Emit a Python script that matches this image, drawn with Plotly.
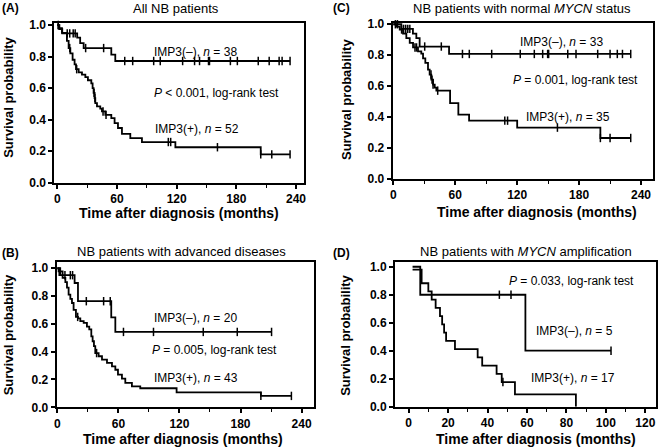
import plotly.graph_objects as go

# ---------------- DATA ----------------
# Panel A: All NB patients
a_neg_t = [0, 2, 5, 20, 23, 26.5, 54.3, 58.3, 234]
a_neg_s = [1.0, 0.974, 0.947, 0.92, 0.886, 0.854, 0.813, 0.772, 0.772]
a_neg_c = [1, 10, 12.5, 16, 18, 28.5, 46.6, 67.8, 75.8, 96.9, 103.5, 126, 138, 143, 152, 153, 174, 181, 202, 213, 223, 226, 234]
a_pos_t = [0, 2, 4.7, 9.7, 11.4, 13.1, 15.4, 17.4, 18.8, 21.5, 24.8, 28.2, 30.8, 34.2, 35.5, 36.5, 37.5, 38.2, 39.9,
           43.2, 44.9, 48.3, 54.3, 57.6, 61, 65, 73.4, 85.1, 118.7, 204.5, 234]
a_pos_s = [1.0, 0.98, 0.95, 0.90, 0.854, 0.82, 0.78, 0.75, 0.72, 0.70, 0.685, 0.67, 0.65, 0.63, 0.60, 0.57, 0.537,
           0.505, 0.484, 0.47, 0.452, 0.43, 0.41, 0.378, 0.347, 0.31, 0.283, 0.258, 0.225, 0.18, 0.18]
a_pos_c = [1, 12.5, 19.5, 37, 37.8, 46, 49, 111.6, 114, 161, 204.5, 215.6, 234]

# Panel C: normal MYCN status
c_neg_t = [0, 7.8, 19, 22.3, 25.5, 54, 230]
c_neg_s = [1.0, 0.97, 0.94, 0.91, 0.856, 0.808, 0.808]
c_neg_c = [2, 4, 10, 12, 14, 16, 30.4, 46.5, 67, 73.6, 95.3, 123, 136.6, 144.7, 149.5, 150.5, 169, 177, 198, 210, 217, 222, 230]
c_pos_t = [0, 2.9, 6.2, 9.4, 12.6, 15.9, 19.1, 23.9, 27.1, 28.8, 31, 33.6, 35.2, 36.8, 38.5, 40.1, 41.7, 55, 63, 73.4,
           120, 200.6, 230]
c_pos_s = [1.0, 0.985, 0.966, 0.94, 0.91, 0.88, 0.85, 0.825, 0.81, 0.78, 0.75, 0.707, 0.675, 0.642, 0.61, 0.59, 0.571,
           0.49, 0.416, 0.377, 0.332, 0.265, 0.265]
c_pos_c = [8, 21, 22.5, 36.5, 37.5, 38.5, 43, 108, 110.7, 159, 200.6, 210, 230]

# Panel B: advanced diseases
b_neg_t = [0, 2, 17, 20.3, 53, 57, 210.5]
b_neg_s = [1.0, 0.95, 0.894, 0.763, 0.647, 0.542, 0.542]
b_neg_c = [7.5, 12.8, 15, 28.5, 45.5, 52, 65, 94.5, 143.4, 176.8, 210.5]
b_pos_t = [0, 1.3, 5.2, 7.9, 9.5, 11.1, 12.8, 14.4, 16, 18.3, 20.3, 22.6, 25.9, 29.1, 31.4, 33.4, 34.7, 36, 37.3,
           40.6, 43.9, 48.8, 53.7, 57, 59.6, 63.5, 66.8, 73.3, 81.5, 117.2, 200, 230]
b_pos_s = [1.0, 0.977, 0.93, 0.90, 0.86, 0.81, 0.78, 0.75, 0.70, 0.65, 0.64, 0.62, 0.607, 0.58, 0.56, 0.51, 0.475,
           0.44, 0.39, 0.367, 0.343, 0.32, 0.295, 0.27, 0.235, 0.206, 0.175, 0.151, 0.137, 0.107, 0.082, 0.082]
b_pos_c = [3, 20, 38.6, 200, 230]

# Panel D: MYCN amplification
d_neg_t = [2, 5.9, 59.2, 102.6]
d_neg_s = [1.0, 0.8, 0.4, 0.4]
d_neg_c = [46, 51.9, 102.6]
d_pos_t = [2, 6.6, 10, 11.7, 13.7, 15.9, 17, 18, 19, 23.5, 35, 37.3, 44.6, 47.2, 53.9, 84.8]
d_pos_s = [0.98, 0.882, 0.824, 0.765, 0.706, 0.647, 0.588, 0.529, 0.471, 0.412, 0.353, 0.294, 0.235, 0.176, 0.088, 0.0]
d_pos_c = [47.8]

titles = {
    "A": "All NB patients",
    "C": "NB patients with normal <i>MYCN</i> status",
    "B": "NB patients with advanced diseases",
    "D": "NB patients with <i>MYCN</i> amplification",
}
labels = {
    "A": ["IMP3(–), <i>n</i> = 38", "<i>P</i> < 0.001, log-rank test", "IMP3(+), <i>n</i> = 52"],
    "C": ["IMP3(–), <i>n</i> = 33", "<i>P</i> = 0.001, log-rank test", "IMP3(+), <i>n</i> = 35"],
    "B": ["IMP3(–), <i>n</i> = 20", "<i>P</i> = 0.005, log-rank test", "IMP3(+), <i>n</i> = 43"],
    "D": ["IMP3(–), <i>n</i> = 5", "<i>P</i> = 0.033, log-rank test", "IMP3(+), <i>n</i> = 17"],
}

# ---------------- LAYOUT ----------------
W, H = 662, 447
FONT = "Liberation Sans, Arial, sans-serif"

def px(x):
    return x / W

def py(y):
    return 1 - y / H

def surv_at(ts, ss, c):
    v = ss[0]
    for t, s in zip(ts, ss):
        if t <= c:
            v = s
    return v

panels = {
    "A": dict(n="", xd=(54.3, 304), yd=(22.7, 182.7), xr=[-3, 248], yr=[0, 1.015], dt=60, mdt=30,
              curves=[(a_neg_t, a_neg_s, a_neg_c), (a_pos_t, a_pos_s, a_pos_c)],
              ann=[(95, 0.83), (95, 0.571), (96.5, 0.339)]),
    "C": dict(n="2", xd=(392.7, 652.7), yd=(22.7, 179), xr=[-0.6, 251.3], yr=[0, 1.01], dt=60, mdt=30,
              curves=[(c_neg_t, c_neg_s, c_neg_c), (c_pos_t, c_pos_s, c_pos_c)],
              ann=[(120.5, 0.887), (114, 0.64), (126.3, 0.399)]),
    "B": dict(n="3", xd=(56.7, 314), yd=(261.7, 407.3), xr=[-0.6, 252.2], yr=[0, 1.047], dt=60, mdt=30,
              curves=[(b_neg_t, b_neg_s, b_neg_c), (b_pos_t, b_pos_s, b_pos_c)],
              ann=[(92.7, 0.64), (91, 0.412), (92.7, 0.209)]),
    "D": dict(n="4", xd=(395, 656), yd=(261.7, 406.7), xr=[-6.9, 125.4], yr=[0, 1.036], dt=20, mdt=10,
              curves=[(d_neg_t, d_neg_s, d_neg_c), (d_pos_t, d_pos_s, d_pos_c)],
              ann=[(63.7, 0.541), (49.8, 0.898), (61.2, 0.203)]),
}

fig = go.Figure()
layout = dict(width=W, height=H, margin=dict(l=0, r=0, t=0, b=0, autoexpand=False), showlegend=False,
              paper_bgcolor="white", plot_bgcolor="white", font=dict(family=FONT, color="black"))
annotations = []

for key, p in panels.items():
    n = p["n"]
    xa, ya = "x" + n, "y" + n
    for ts, ss, cs in p["curves"]:
        fig.add_trace(go.Scatter(x=ts, y=ss, mode="lines", line=dict(color="black", width=1.8, shape="hv"),
                                 xaxis=xa, yaxis=ya, hoverinfo="skip", cliponaxis=False))
        fig.add_trace(go.Scatter(x=cs, y=[surv_at(ts, ss, c) for c in cs], mode="markers",
                                 marker=dict(symbol="line-ns", size=6, line=dict(color="black", width=1.5)),
                                 xaxis=xa, yaxis=ya, hoverinfo="skip", cliponaxis=False))
    axis_common = dict(showline=True, linecolor="black", linewidth=2, mirror=True, ticks="outside",
                       ticklen=4, tickwidth=1.5, tickcolor="black", showgrid=False, zeroline=False,
                       automargin=False,
                       tickfont=dict(family=FONT, size=12, color="black", weight="bold"))
    layout["xaxis" + n] = dict(axis_common, domain=[px(p["xd"][0]), px(p["xd"][1])], range=p["xr"],
                               anchor=ya, tickmode="linear", tick0=0, dtick=p["dt"],
                               minor=dict(ticks="outside", ticklen=3, tickwidth=1.2, tickcolor="black",
                                          dtick=p["mdt"], tick0=0))
    layout["yaxis" + n] = dict(axis_common, domain=[py(p["yd"][1]), py(p["yd"][0])], range=p["yr"],
                               anchor=xa, tickmode="linear", tick0=0, dtick=0.2, tickformat=".1f")
    for txt, (ax, ay) in zip(labels[key], p["ann"]):
        annotations.append(dict(text=txt, x=ax, y=ay, xref=xa, yref=ya, xanchor="left", yanchor="middle",
                                showarrow=False, font=dict(family=FONT, size=12, color="black")))

for key, (tx, ty, lx, ly, xtx, xty, ytx, yty) in {
    "A": (176, 8, 0, 8, 179, 213, 8.3, 97.5),
    "C": (522, 8, 331, 8, 536.7, 211.7, 346, 100),
    "B": (181.7, 251.7, 0, 253, 183.3, 439, 8.3, 335),
    "D": (526, 251.7, 331, 253, 535.7, 439, 346, 335.8),
}.items():
    annotations.append(dict(text=titles[key], x=px(tx), y=py(ty), xref="paper", yref="paper",
                            xanchor="center", yanchor="middle", showarrow=False,
                            font=dict(family=FONT, size=13, color="black")))
    annotations.append(dict(text="<b>(" + key + ")</b>", x=px(lx), y=py(ly), xref="paper", yref="paper",
                            xanchor="left", yanchor="middle", showarrow=False,
                            font=dict(family=FONT, size=12, color="black")))
    annotations.append(dict(text="<b>Time after diagnosis (months)</b>", x=px(xtx), y=py(xty), xref="paper",
                            yref="paper", xanchor="center", yanchor="middle", showarrow=False,
                            font=dict(family=FONT, size=14, color="black")))
    annotations.append(dict(text="<b>Survival probability</b>", x=px(ytx), y=py(yty), xref="paper",
                            yref="paper", xanchor="center", yanchor="middle", showarrow=False, textangle=-90,
                            font=dict(family=FONT, size=13, color="black")))

layout["annotations"] = annotations
fig.update_layout(**layout)
fig.write_html("out.html", config={"displayModeBar": False},
               post_script="document.body.style.margin='0';document.body.style.overflow='hidden';")
